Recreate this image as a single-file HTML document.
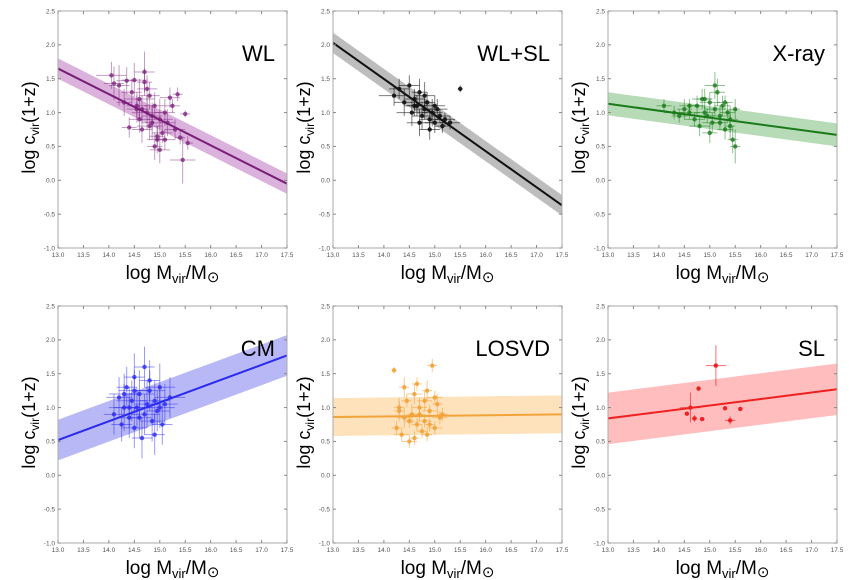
<!DOCTYPE html>
<html><head><meta charset="utf-8"><style>
body{margin:0;background:#fff}
svg{display:block;font-family:"Liberation Sans",sans-serif}
</style></head><body>
<svg id="chart" width="849" height="580" viewBox="0 0 849 580"></svg>
<script>
const xTicks=[13.0,13.5,14.0,14.5,15.0,15.5,16.0,16.5,17.0,17.5];
const yTicks=[-1.0,-0.5,0.0,0.5,1.0,1.5,2.0,2.5];
const panelTitles=["WL","WL+SL","X-ray","CM","LOSVD","SL"];
const fitStart=[1.65,2.03,1.13,0.52,0.86,0.84];
const fitEnd=[-0.05,-0.37,0.67,1.77,0.90,1.27];
const bandHalf=[0.15,0.15,0.17,0.30,0.28,0.38];
const wlX=[14.05,14.1,14.2,14.3,14.35,14.4,14.45,14.5,14.55,14.6,14.6,14.65,14.7,14.7,14.75,14.8,14.8,14.85,14.9,14.9,14.95,15.0,15.0,15.05,15.1,15.15,15.2,15.25,15.3,15.35,15.4,15.45,15.5,15.55,14.65,14.75,14.85,14.95,15.1,14.55];
const wlY=[1.55,1.43,1.4,1.15,1.47,0.78,1.3,1.48,1.1,1.2,0.9,1.05,1.6,1.45,1.0,0.8,1.25,0.95,0.5,1.1,0.65,0.45,0.9,0.7,0.6,0.85,1.22,1.1,0.75,1.27,0.63,0.3,0.98,0.55,0.75,1.35,0.85,0.6,1.0,1.05];
const wlXe=[0.3,0.2,0.2,0.15,0.2,0.15,0.2,0.25,0.2,0.3,0.2,0.15,0.2,0.15,0.3,0.25,0.2,0.2,0.15,0.2,0.15,0.2,0.25,0.2,0.2,0.15,0.2,0.15,0.2,0.1,0.1,0.25,0.1,0.1,0.2,0.2,0.2,0.2,0.2,0.2];
const wlYe=[0.2,0.25,0.3,0.2,0.2,0.15,0.2,0.25,0.2,0.3,0.2,0.2,0.3,0.2,0.25,0.2,0.2,0.2,0.2,0.2,0.15,0.2,0.3,0.15,0.15,0.2,0.15,0.1,0.15,0.1,0.1,0.35,0.05,0.1,0.2,0.2,0.25,0.2,0.2,0.2];
const wsX=[14.2,14.3,14.4,14.5,14.55,14.6,14.65,14.7,14.75,14.8,14.85,14.9,14.95,15.0,15.05,15.1,15.15,15.2,15.3,15.5,14.8,14.9,15.0,14.7,14.6];
const wsY=[1.25,1.35,1.15,1.4,1.0,1.2,1.1,1.3,0.95,1.05,1.15,0.9,1.0,0.85,1.05,0.95,0.8,0.9,0.85,1.35,1.25,0.75,1.1,0.85,1.1];
const wsXe=[0.3,0.2,0.2,0.2,0.3,0.2,0.2,0.15,0.2,0.2,0.15,0.2,0.2,0.2,0.2,0.2,0.15,0.2,0.2,0.05,0.2,0.2,0.2,0.25,0.2];
const wsYe=[0.15,0.15,0.2,0.15,0.2,0.15,0.15,0.2,0.2,0.15,0.15,0.15,0.2,0.15,0.15,0.1,0.1,0.1,0.1,0.05,0.2,0.15,0.15,0.2,0.15];
const xrX=[14.1,14.3,14.4,14.5,14.6,14.7,14.75,14.8,14.85,14.9,14.95,15.0,15.05,15.1,15.15,15.2,15.25,15.3,15.35,15.4,15.45,15.5,15.5,15.0,14.9,15.2,15.3,14.6,15.4,15.1];
const xrY=[1.1,1.0,0.95,1.05,1.0,0.9,1.1,0.8,1.2,1.0,0.95,1.15,0.85,1.05,1.3,0.95,1.1,0.75,1.0,0.9,0.6,0.5,1.05,0.7,1.2,0.85,1.15,1.1,0.8,1.4];
const xrXe=[0.15,0.2,0.15,0.15,0.2,0.2,0.15,0.2,0.2,0.2,0.15,0.2,0.2,0.2,0.15,0.2,0.15,0.15,0.15,0.15,0.1,0.1,0.1,0.15,0.15,0.15,0.15,0.2,0.1,0.2];
const xrYe=[0.1,0.1,0.1,0.15,0.1,0.1,0.15,0.15,0.15,0.1,0.1,0.15,0.15,0.1,0.2,0.15,0.15,0.15,0.15,0.2,0.2,0.25,0.15,0.15,0.15,0.1,0.1,0.1,0.2,0.2];
const cmX=[14.1,14.2,14.25,14.3,14.35,14.4,14.45,14.5,14.5,14.55,14.6,14.65,14.7,14.7,14.75,14.8,14.85,14.9,14.95,15.0,15.05,15.1,15.2,14.4,14.6,14.8,14.3,14.9,15.0,14.5];
const cmY=[0.9,1.15,0.75,1.0,1.3,0.85,1.1,1.45,0.7,1.0,1.2,0.55,1.6,0.9,1.05,1.25,0.8,1.1,0.95,1.3,0.75,1.05,1.15,1.0,0.85,1.4,1.2,0.6,1.0,1.25];
const cmXe=[0.2,0.25,0.2,0.3,0.2,0.25,0.3,0.2,0.25,0.3,0.3,0.2,0.2,0.3,0.25,0.3,0.25,0.3,0.25,0.3,0.2,0.25,0.3,0.3,0.25,0.2,0.3,0.2,0.3,0.3];
const cmYe=[0.3,0.3,0.25,0.35,0.3,0.3,0.3,0.35,0.3,0.3,0.35,0.3,0.3,0.3,0.35,0.3,0.3,0.3,0.3,0.35,0.3,0.3,0.3,0.3,0.3,0.3,0.3,0.3,0.3,0.3];
const loX=[14.2,14.25,14.3,14.35,14.4,14.45,14.5,14.55,14.6,14.65,14.7,14.75,14.8,14.85,14.9,14.95,15.0,15.05,15.1,15.15,14.4,14.6,14.8,14.5,14.7,15.0,14.3,14.9,14.65,14.85];
const loY=[1.55,0.7,0.95,0.6,0.85,1.1,0.5,0.9,1.2,0.75,1.0,0.65,0.8,1.25,0.95,1.62,0.7,1.05,0.85,0.9,1.3,0.55,1.1,0.8,0.9,1.15,1.0,0.75,1.35,0.6];
const loXe=[0.05,0.1,0.1,0.15,0.15,0.1,0.15,0.1,0.15,0.1,0.15,0.1,0.15,0.1,0.15,0.1,0.15,0.1,0.15,0.1,0.1,0.1,0.15,0.1,0.1,0.15,0.1,0.1,0.1,0.1];
const loYe=[0.05,0.1,0.15,0.1,0.15,0.1,0.1,0.15,0.15,0.1,0.15,0.1,0.1,0.15,0.1,0.1,0.1,0.15,0.1,0.1,0.15,0.1,0.15,0.1,0.1,0.1,0.15,0.1,0.1,0.1];
const slX=[14.55,14.62,14.7,14.78,14.85,15.12,15.3,15.4,15.6];
const slY=[0.91,1.0,0.84,1.28,0.83,1.62,0.99,0.81,0.98];
const slXe=[0.0,0.2,0.05,0.0,0.05,0.2,0.0,0.1,0.0];
const slYe=[0.0,0.22,0.05,0.0,0.0,0.3,0.0,0.06,0.0];
const panelX=[wlX,wsX,xrX,cmX,loX,slX];
const panelY=[wlY,wsY,xrY,cmY,loY,slY];
const panelXe=[wlXe,wsXe,xrXe,cmXe,loXe,slXe];
const panelYe=[wlYe,wsYe,xrYe,cmYe,loYe,slYe];
const lineColors=["#7a1e7a","#111","#1a7a1a","#2a2af0","#f2a33a","#ee2020"];
const bandColors=["#dbb2db","#bdbdbd","#b6dbb6","#b8b8f6","#fde2bc","#ffbdbd"];
const ptAlpha=[0.55,0.7,0.6,0.6,0.7,0.8];

const NS="http://www.w3.org/2000/svg";
const svg=document.getElementById('chart');
function mk(tag,attrs,parent){const e=document.createElementNS(NS,tag);for(const k in attrs)e.setAttribute(k,attrs[k]);(parent||svg).appendChild(e);return e;}
const colL=[58,333,608],rowT=[11,306],W=229,H=237;
for(let p=0;p<6;p++){
  const L=colL[p%3],T=rowT[Math.floor(p/3)];
  const sx=v=>L+(v-13)/4.5*W, sy=v=>T+(2.5-v)/3.5*H;
  const g=mk('g',{});
  
  
  const y0=fitStart[p],y1=fitEnd[p],b=bandHalf[p];
  const band=mk('polygon',{points:`${sx(13)},${sy(y0+b)} ${sx(17.5)},${sy(y1+b)} ${sx(17.5)},${sy(y1-b)} ${sx(13)},${sy(y0-b)}`,fill:bandColors[p]},g);
  
  
  const xs=panelX[p],ys=panelY[p],xe=panelXe[p],ye=panelYe[p];
  for(let i=0;i<xs.length;i++){
    const pg=mk('g',{stroke:lineColors[p],'stroke-opacity':ptAlpha[p]*0.8,'stroke-width':1,fill:lineColors[p],'fill-opacity':ptAlpha[p]+0.2},g);
    
    
    if(xe[i]>0)mk('line',{x1:sx(xs[i]-xe[i]),x2:sx(xs[i]+xe[i]),y1:sy(ys[i]),y2:sy(ys[i])},pg);
    if(ye[i]>0)mk('line',{x1:sx(xs[i]),x2:sx(xs[i]),y1:sy(ys[i]-ye[i]),y2:sy(ys[i]+ye[i])},pg);
    mk('circle',{cx:sx(xs[i]),cy:sy(ys[i]),r:2.2,stroke:'none'},pg);
  }
  const fl=mk('line',{x1:sx(13),y1:sy(y0),x2:sx(17.5),y2:sy(y1),stroke:lineColors[p],'stroke-width':2},g);
  
  
  const fr=mk('rect',{x:L,y:T,width:W,height:H,fill:'none',stroke:'#aaa','stroke-width':1},g);
  
  
  xTicks.forEach(v=>{
    mk('line',{x1:sx(v),x2:sx(v),y1:T+H,y2:T+H-3,stroke:'#888'},g);
    mk('line',{x1:sx(v),x2:sx(v),y1:T,y2:T+3,stroke:'#888'},g);
    const t=mk('text',{x:sx(v),y:T+H+9,'font-size':6.5,fill:'#555','text-anchor':'middle'},g);
    t.textContent=v.toFixed(1);
    
    
  });
  yTicks.forEach(v=>{
    mk('line',{x1:L,x2:L+3,y1:sy(v),y2:sy(v),stroke:'#888'},g);
    mk('line',{x1:L+W,x2:L+W-3,y1:sy(v),y2:sy(v),stroke:'#888'},g);
    const t=mk('text',{x:L-3,y:sy(v)+2.3,'font-size':6.5,fill:'#555','text-anchor':'end'},g);
    t.textContent=v.toFixed(1);
    
    
  });
  const ti=mk('text',{x:L+W-12,y:T+50,'font-size':22,'text-anchor':'end',fill:'#000'},g);
  ti.textContent=panelTitles[p];
  
  
  const xl=mk('text',{x:L+W/2,y:T+H+31,'font-size':19,'text-anchor':'middle',fill:'#000'},g);
  xl.innerHTML='log M<tspan font-size="13" dy="4">vir</tspan><tspan dy="-4">/M</tspan><tspan font-size="15" dy="3">⊙</tspan>';
  
  
  const cx=L-23,cy=T+H/2-2;
  const yl=mk('text',{x:cx,y:cy,'font-size':18,'text-anchor':'middle',fill:'#000',transform:`rotate(-90 ${cx} ${cy})`},g);
  yl.innerHTML='log c<tspan font-size="12" dy="4">vir</tspan><tspan dy="-4">(1+z)</tspan>';
  
  
}
</script>
</body></html>
